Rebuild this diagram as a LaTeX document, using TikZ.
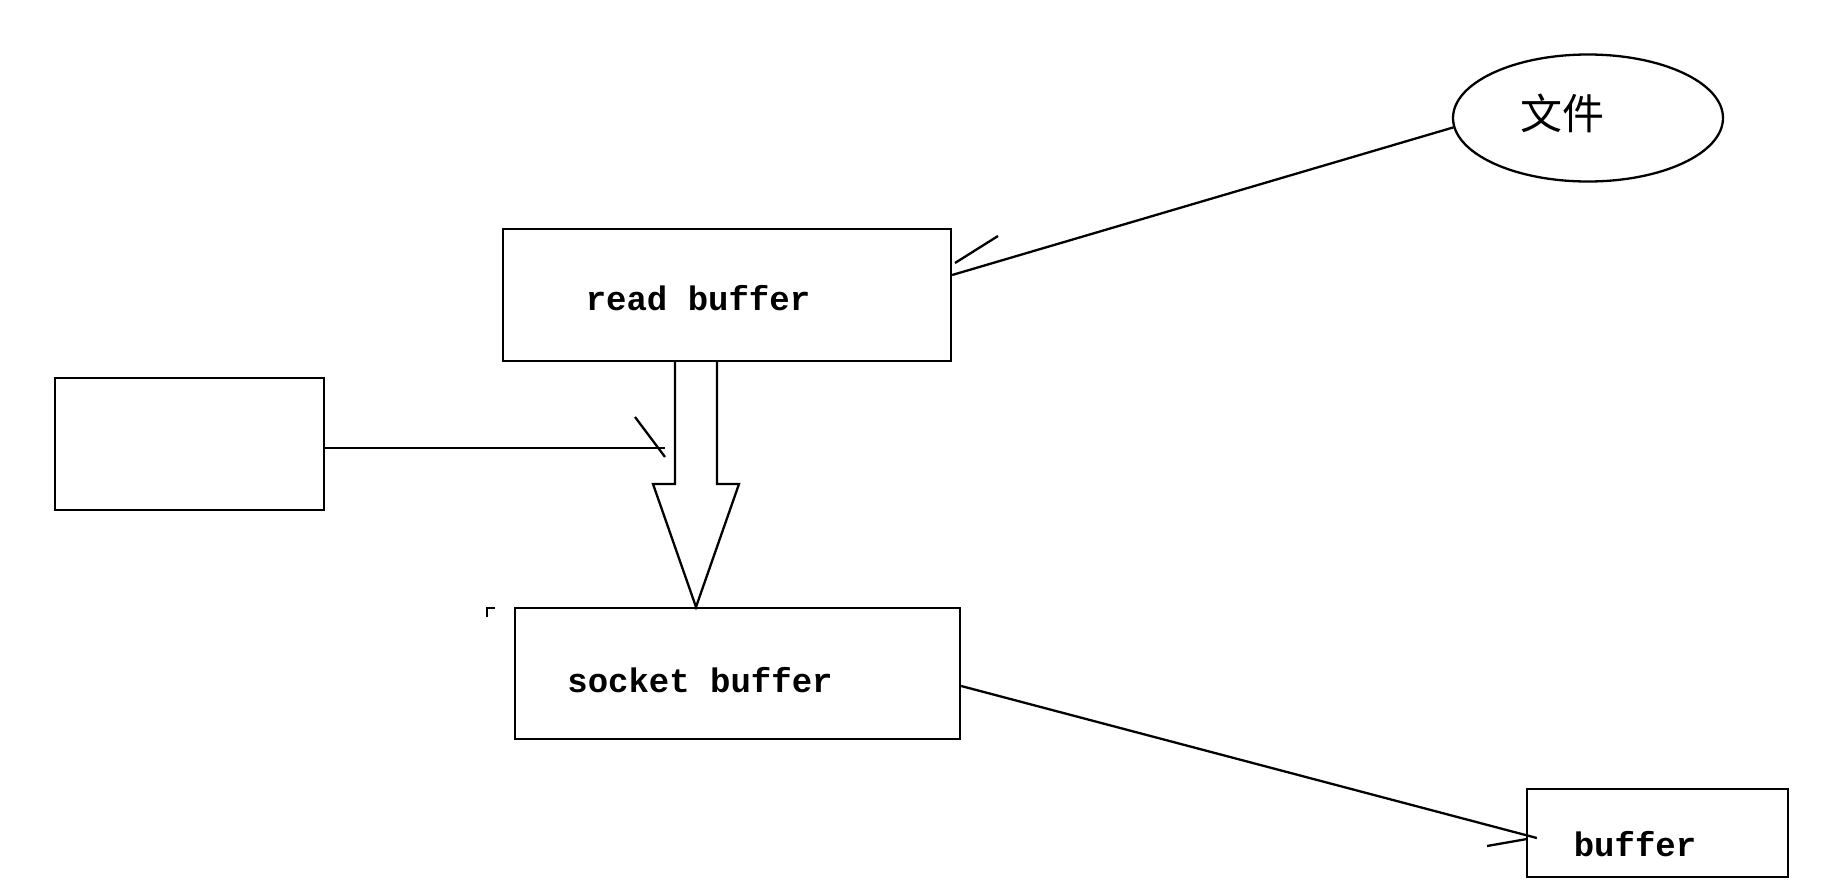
\documentclass[tikz,border=0pt]{standalone}
\usepackage{fontspec}
\setmainfont{Liberation Mono}
\newfontfamily\cjkfont{Noto Sans CJK SC}
\usetikzlibrary{positioning, shapes.geometric}

\begin{document}
\begin{tikzpicture}[
    x=1pt, y=-1pt,
    line width=2.3pt,
    box/.style 2 args={draw, rectangle, minimum width=#1, minimum height=#2, inner sep=0pt},
    lbl/.style={inner sep=0pt, font=\bfseries\fontsize{34}{40}\selectfont}
]
    \useasboundingbox (0,0) rectangle (1832,886);

    % boxes
    \node[box={448pt}{132pt}] (readbuf) at (727,295) {};
    \node[box={269pt}{132pt}] (leftbox) at (189.5,444) {};
    \node[box={445pt}{131pt}] (sockbuf) at (737.5,673.5) {};
    \node[box={261pt}{88pt}] (bufbox) at (1657.5,833) {};
    \node[draw, ellipse, minimum width=270pt, minimum height=127pt, inner sep=0pt] (file) at (1588,118) {};

    % texts
    \node[lbl] (readtxt) at (698,298) {read buffer};
    \node[lbl] (socktxt) at (700,680) {socket buffer};
    \node[lbl] (buftxt) at (1635,844) {buffer};
    \node[inner sep=0pt, font=\cjkfont\fontsize{42}{46}\selectfont] (filetxt) at (1562,113) {文件};

    % file -> read buffer
    \draw (file.184) -- ([yshift=20pt]readbuf.east);
    \draw (955,263) -- (998,236);

    % left box -> shaft
    \coordinate (hitA) at (665,448);
    \draw ([yshift=-4pt]leftbox.east) -- (hitA);
    \draw (635,417) -- (665,457);

    % hollow arrow read buffer -> socket buffer
    \coordinate (tip) at (696,607);
    \draw[line join=miter] (675,361) -- (675,484) -- (653,484) -- (tip) -- (739,484) -- (717,484) -- (717,361);

    % stray mark
    \draw[line width=2.5pt] (487,617) -- (487,608) -- (495,608);

    % socket buffer -> buffer
    \draw ([yshift=-12.5pt]sockbuf.east) -- ([shift={(11pt,-5pt)}]bufbox.west);
    \draw (1487,846) -- (1527,839);
\end{tikzpicture}
\end{document}
